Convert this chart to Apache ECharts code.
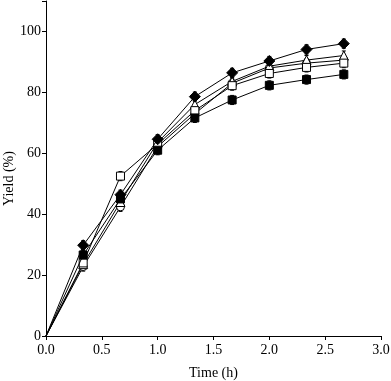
<!DOCTYPE html>
<html>
<head>
	<meta charset="UTF-8">
	<title>yield vs time</title>
	<script src="https://cdn.jsdelivr.net/npm/echarts@6/dist/echarts.min.js"></script>
	<style>
		html, body { margin: 0; padding: 0; background: #fff; }
		#chart { width: 391px; height: 381px; }
	</style>
</head>
<body>
<div id="chart"></div>
<script type="text/javascript">
	// 时间点 (h)
	var times = [0, 0.333, 0.667, 1.0, 1.333, 1.667, 2.0, 2.333, 2.667];

	// 各组产率 (%)
	var diamondFilled = [0, 29.8, 46.4, 64.6, 78.6, 86.4, 90.3, 94.1, 96.0];
	var squareFilled  = [0, 26.6, 45.0, 61.0, 71.6, 77.5, 82.3, 84.2, 85.9];
	var squareOpen    = [0, 24.0, 52.5, 63.0, 74.0, 82.2, 86.2, 88.2, 89.6];
	var circleOpen    = [0, 22.8, 42.4, 62.2, 73.0, 83.0, 88.0, 89.6, 90.6];
	var triangleOpen  = [0, 23.6, 44.0, 63.6, 76.0, 83.6, 88.6, 90.6, 92.1];

	// 误差 (±%)
	var errBars = [0, 1.5, 1.5, 1.5, 1.5, 1.5, 1.5, 1.5, 1.5];

	var xTicks = [0, 0.5, 1.0, 1.5, 2.0, 2.5, 3.0];
	var yTicks = [0, 20, 40, 60, 80, 100];

	function pairs(vals) {
		var out = [];
		for (var i = 0; i < vals.length; i++) {
			if (i === 0) {
				out.push({ value: [times[i], vals[i]], symbol: 'none' });
			} else {
				out.push([times[i], vals[i]]);
			}
		}
		return out;
	}

	function errData(vals) {
		var out = [];
		for (var i = 1; i < vals.length; i++) {
			out.push([times[i], vals[i] - errBars[i], vals[i] + errBars[i]]);
		}
		return out;
	}

	function makeSeries(vals, symbol, size, filled) {
		return {
			type: 'line',
			data: pairs(vals),
			symbol: symbol,
			symbolSize: size,
			showAllSymbol: true,
			lineStyle: { color: '#000', width: 1 },
			itemStyle: {
				color: filled ? '#000' : '#fff',
				borderColor: '#000',
				borderWidth: 1
			},
			z: filled ? 3 : 2
		};
	}

	function makeErr(vals) {
		return {
			type: 'custom',
			data: errData(vals),
			z: 1,
			renderItem: function (params, api) {
				var x = api.value(0);
				var lo = api.coord([x, api.value(1)]);
				var hi = api.coord([x, api.value(2)]);
				var w = 2;
				var st = { stroke: '#000', lineWidth: 1 };
				return {
					type: 'group',
					children: [
						{ type: 'line', shape: { x1: lo[0], y1: lo[1], x2: hi[0], y2: hi[1] }, style: st },
						{ type: 'line', shape: { x1: lo[0] - w, y1: lo[1], x2: lo[0] + w, y2: lo[1] }, style: st },
						{ type: 'line', shape: { x1: hi[0] - w, y1: hi[1], x2: hi[0] + w, y2: hi[1] }, style: st }
					]
				};
			}
		};
	}

	var font = 'Liberation Serif, Times New Roman, serif';

	var myChart = echarts.init(document.getElementById('chart'));
	var option = {
		animation: false,
		grid: { left: 46, right: 10, top: 1, bottom: 45, outerBoundsMode: 'none', containLabel: false },
		xAxis: {
			type: 'value',
			min: 0, max: 3, interval: 0.5,
			name: 'Time (h)',
			nameLocation: 'middle',
			nameGap: 30,
			nameMoveOverlap: false,
			nameTextStyle: { color: '#000', fontFamily: font, fontSize: 14 },
			axisLine: { lineStyle: { color: '#000', width: 1 } },
			axisTick: { length: 4, lineStyle: { color: '#000' } },
			axisLabel: {
				color: '#000', fontFamily: font, fontSize: 14, margin: 7,
				formatter: function (v) { return v.toFixed(1); }
			},
			splitLine: { show: false }
		},
		yAxis: {
			type: 'value',
			min: 0, max: 110, interval: 20,
			name: 'Yield (%)',
			nameLocation: 'middle',
			nameGap: 30,
			nameMoveOverlap: false,
			nameTextStyle: { color: '#000', fontFamily: font, fontSize: 14, padding: [0, 20, 0, 0] },
			axisLine: { show: true, lineStyle: { color: '#000', width: 1 } },
			axisTick: { show: true, length: 4, lineStyle: { color: '#000' } },
			axisLabel: {
				color: '#000', fontFamily: font, fontSize: 14, margin: 5,
				formatter: function (v) { return yTicks.indexOf(v) >= 0 ? String(v) : ''; }
			},
			splitLine: { show: false }
		},
		series: [
			makeErr(circleOpen),
			makeErr(triangleOpen),
			makeErr(squareOpen),
			makeErr(squareFilled),
			makeErr(diamondFilled),
			makeSeries(circleOpen, 'circle', 8, false),
			makeSeries(triangleOpen, 'triangle', 9, false),
			makeSeries(squareOpen, 'rect', 8, false),
			makeSeries(squareFilled, 'rect', 8, true),
			makeSeries(diamondFilled, 'diamond', 11, true)
		]
	};
	myChart.setOption(option);
</script>
</body>
</html>
